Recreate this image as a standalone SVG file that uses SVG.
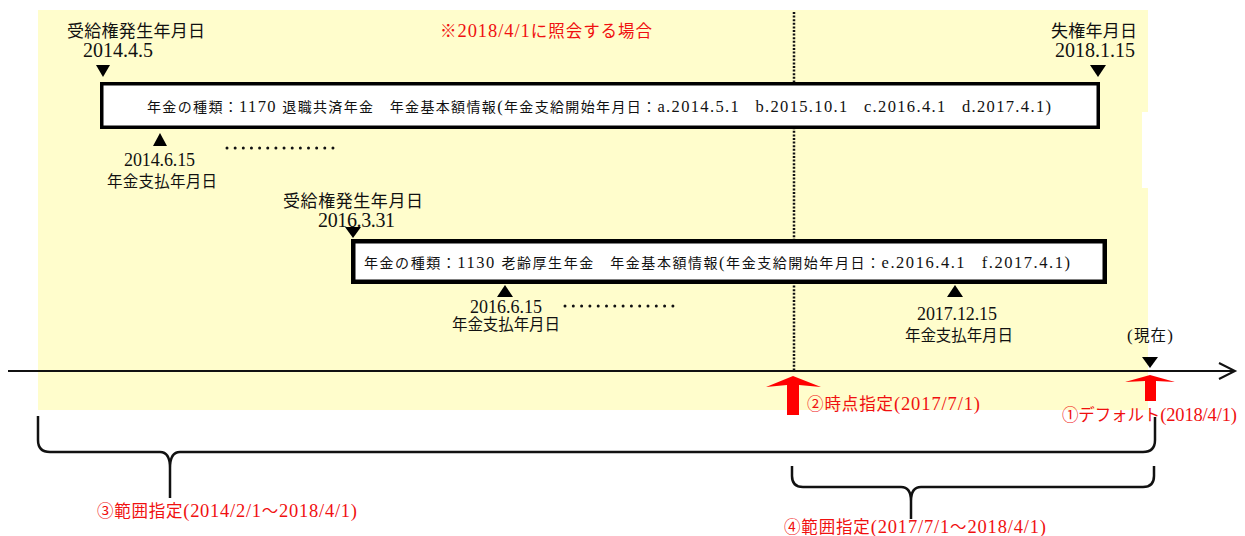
<svg xmlns="http://www.w3.org/2000/svg" width="1245" height="536" viewBox="0 0 1245 536">
<style>
text{font-family:"Liberation Serif","Noto Sans CJK JP",serif;fill:#111}
.lbl{font-size:17px}
.num{font-size:20px}
.lbl2{font-size:15.5px}
.num2{font-size:18px}
.box{font-size:14px}
.box .l{font-size:16.5px}
.red{font-size:16.5px;fill:#f01010}
.red .l{font-size:18.5px}
.tri{fill:#000}
.box-rect{fill:#fff;stroke:#000}
.dots{stroke:#111;stroke-width:3;stroke-linecap:round;fill:none}
.brace{fill:none;stroke:#111;stroke-width:2.5;stroke-linejoin:round}
.redarrow{fill:#ff0000}
</style>
<rect x="38" y="10" width="1110" height="400" fill="#fffdcc"/>
<rect x="1142" y="112" width="28" height="76" fill="#fff"/>

<g id="connectors">
  <line x1="794" y1="12" x2="794" y2="370" stroke="#111" stroke-width="2.5" stroke-dasharray="2 1.6"/>
  <line x1="8" y1="371" x2="1234" y2="371" stroke="#111" stroke-width="2"/>
  <polyline points="1219,363 1235,371 1219,379" fill="none" stroke="#111" stroke-width="2"/>
</g>

<text x="440" y="37" class="red" font-size="17" textLength="212">※<tspan class="l">2018/4/1</tspan>に照会する場合</text>

<g id="start1">
  <text x="67" y="37" class="lbl" textLength="138">受給権発生年月日</text>
  <text x="83" y="57" class="num" textLength="70">2014.4.5</text>
  <polygon class="tri" points="96,65 110,65 103,77"/>
</g>

<g id="end1">
  <text x="1051" y="37" class="lbl" textLength="86">失権年月日</text>
  <text x="1055" y="57" class="num" textLength="80">2018.1.15</text>
  <polygon class="tri" points="1090,65 1106,65 1098,77"/>
</g>

<g id="pension1">
  <rect class="box-rect" x="101.75" y="83.75" width="996.5" height="43.5" stroke-width="3.5"/>
  <text x="147" y="112" class="box" textLength="904">年金の種類：<tspan class="l">1170 </tspan>退職共済年金　年金基本額情報<tspan class="l">(</tspan>年金支給開始年月日：<tspan class="l">a.2014.5.1</tspan>　<tspan class="l">b.2015.10.1</tspan>　<tspan class="l">c.2016.4.1</tspan>　<tspan class="l">d.2017.4.1)</tspan></text>
</g>

<g id="pay1">
  <polygon class="tri" points="153,146 167,146 160,133"/>
  <text x="124" y="166" class="num2" textLength="71">2014.6.15</text>
  <text x="107" y="187" class="lbl2" textLength="110">年金支払年月日</text>
  <line class="dots" x1="227" y1="148" x2="333" y2="148" stroke-dasharray="0 8.15"/>
</g>

<g id="start2">
  <text x="283" y="207" class="lbl" textLength="140">受給権発生年月日</text>
  <text x="318" y="227" class="num" textLength="77">2016.3.31</text>
  <polygon class="tri" points="345,227 361,227 353,238"/>
</g>

<g id="pension2">
  <rect class="box-rect" x="353.25" y="241.25" width="751.5" height="40.5" stroke-width="4.5"/>
  <text x="364" y="268" class="box" textLength="706">年金の種類：<tspan class="l">1130 </tspan>老齢厚生年金　年金基本額情報<tspan class="l">(</tspan>年金支給開始年月日：<tspan class="l">e.2016.4.1</tspan>　<tspan class="l">f.2017.4.1)</tspan></text>
</g>

<g id="pay2">
  <polygon class="tri" points="497,297 513,297 505,285"/>
  <text x="470" y="313" class="num2" textLength="72">2016.6.15</text>
  <text x="452" y="330" class="lbl2" textLength="108">年金支払年月日</text>
  <line class="dots" x1="565" y1="306" x2="673" y2="306" stroke-dasharray="0 8.3"/>
</g>

<g id="pay3">
  <polygon class="tri" points="947,297 963,297 955,285"/>
  <text x="917" y="320" class="num2" textLength="80">2017.12.15</text>
  <text x="905" y="341" class="lbl2" textLength="108">年金支払年月日</text>
</g>

<g id="now">
  <text x="1127" y="341" class="lbl2" textLength="46"><tspan font-size="17">(</tspan>現在<tspan font-size="17">)</tspan></text>
  <polygon class="tri" points="1142,357 1158,357 1150,368"/>
</g>

<g id="point-spec">
  <path class="redarrow" d="M766,387 L793,376 L821,387 L799,385 L799,415 L787,415 L787,385 Z"/>
  <text x="807" y="410" class="red" textLength="173">②時点指定<tspan class="l">(2017/7/1)</tspan></text>
</g>

<g id="default-spec">
  <path class="redarrow" d="M1125,382 L1150,375 L1175,382 L1156,381 L1156,401 L1145,401 L1145,381 Z"/>
  <text x="1062" y="421" class="red" textLength="175">①デフォルト<tspan class="l">(2018/4/1)</tspan></text>
</g>

<g id="range3">
  <path class="brace" d="M38,416 L38,440 Q38,452 50,452 L160,452 Q170,452 170,468 L170,498 M170,468 Q170,452 180,452 L1143,452 Q1155,452 1155,440 L1155,417"/>
  <text x="97" y="517" class="red" textLength="260">③範囲指定<tspan class="l">(2014/2/1</tspan>～<tspan class="l">2018/4/1)</tspan></text>
</g>

<g id="range4">
  <path class="brace" d="M792,466 L792,476 Q792,487 803,487 L901,487 Q911,487 911,501 L911,519 M911,501 Q911,487 921,487 L1143,487 Q1154,487 1154,476 L1154,466"/>
  <text x="784" y="533" class="red" textLength="262">④範囲指定<tspan class="l">(2017/7/1</tspan>～<tspan class="l">2018/4/1)</tspan></text>
</g>
</svg>
